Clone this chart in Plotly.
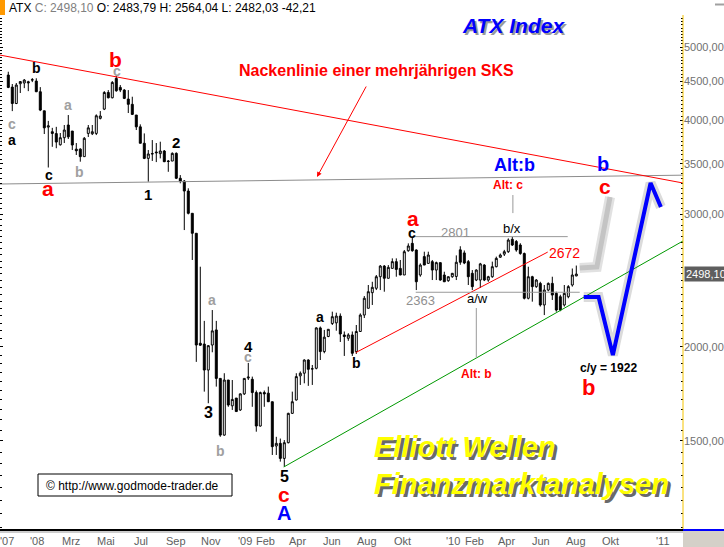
import math
import pandas as pd
import plotly.graph_objects as go

FONT = "Liberation Sans, Arial, sans-serif"

# weekly candles of the ATX, Nov 2007 - Aug 2010
opens = [4590, 4424, 4208, 4470, 4480, 4497, 4520, 4506, 4362, 4115,
         3915, 3860, 3838, 3709, 3790, 3940, 3868, 3660, 3660, 3577,
         3840, 3836, 3840, 4021, 4136, 4352, 4282, 4543, 4420, 4384,
         4265, 4197, 4062, 3918, 3726, 3558, 3606, 3628, 3610, 3639,
         3529, 3529, 3613, 3348, 3320, 3220, 3008, 2830, 2022, 2017,
         1863, 2011, 2106, 1816, 1527, 1807, 1670, 1710, 1649, 1732,
         1818, 1811, 1739, 1570, 1739, 1736, 1691, 1477, 1489, 1422,
         1492, 1632, 1700, 1830, 1845, 1921, 1869, 1873, 2119, 1971,
         2064, 2148, 2152, 2197, 2074, 2053, 2074, 1971, 2096, 2204,
         2250, 2360, 2392, 2478, 2560, 2466, 2542, 2595, 2542, 2491,
         2683, 2744, 2689, 2491, 2635, 2581, 2595, 2529, 2587, 2491,
         2448, 2478, 2480, 2690, 2665, 2595, 2504, 2453, 2453, 2568,
         2453, 2478, 2555, 2630, 2655, 2675, 2778, 2760, 2730, 2660,
         2320, 2478, 2404, 2428, 2273, 2379, 2428, 2355, 2331, 2273,
         2331, 2416, 2483.79]
highs = [4637, 4466, 4480, 4506, 4535, 4510, 4548, 4545, 4424, 4115,
         3990, 3906, 3918, 3845, 3940, 4062, 3868, 3729, 3670, 3798,
         3940, 3940, 4070, 4112, 4370, 4384, 4506, 4580, 4452, 4397,
         4384, 4296, 4062, 3948, 3840, 3650, 3763, 3729, 3744, 3650,
         3540, 3624, 3624, 3381, 3330, 3247, 3008, 2830, 2555, 2165,
         2011, 2238, 2165, 1816, 1845, 1807, 1807, 1710, 1735, 1816,
         1904, 1826, 1750, 1744, 1750, 1771, 1691, 1519, 1511, 1504,
         1635, 1744, 1845, 1855, 1925, 1925, 1892, 2123, 2128, 2106,
         2112, 2227, 2220, 2215, 2096, 2085, 2096, 2138, 2215, 2336,
         2416, 2440, 2491, 2568, 2568, 2568, 2621, 2621, 2608, 2689,
         2744, 2790, 2694, 2581, 2675, 2675, 2608, 2595, 2587, 2516,
         2480, 2506, 2645, 2720, 2685, 2608, 2529, 2535, 2585, 2575,
         2485, 2595, 2635, 2660, 2690, 2786, 2800, 2772, 2745, 2668,
         2555, 2485, 2460, 2440, 2416, 2435, 2478, 2367, 2345, 2416,
         2415, 2541, 2564.04]
lows = [4410, 4111, 4200, 4345, 4410, 4370, 4492, 4357, 4111, 3833,
        3460, 3686, 3670, 3700, 3729, 3775, 3650, 3595, 3522, 3577,
        3798, 3821, 3821, 4008, 4124, 4274, 4274, 4362, 4357, 4265,
        4087, 4062, 3880, 3726, 3550, 3313, 3530, 3518, 3558, 3518,
        3415, 3529, 3340, 3297, 2858, 2998, 2608, 1910, 2005, 1744,
        1683, 1967, 1771, 1519, 1524, 1665, 1649, 1641, 1644, 1726,
        1807, 1665, 1543, 1567, 1665, 1726, 1437, 1437, 1408, 1386,
        1489, 1629, 1697, 1780, 1789, 1775, 1780, 1867, 1921, 1961,
        2060, 2138, 2101, 2030, 1945, 2037, 1945, 1957, 2096, 2184,
        2250, 2273, 2379, 2379, 2367, 2466, 2542, 2478, 2490, 2491,
        2675, 2675, 2379, 2478, 2568, 2581, 2453, 2453, 2448, 2440,
        2440, 2470, 2453, 2570, 2575, 2416, 2379, 2445, 2394, 2445,
        2440, 2470, 2550, 2625, 2640, 2665, 2722, 2675, 2650, 2312,
        2312, 2296, 2395, 2262, 2204, 2370, 2308, 2227, 2230, 2262,
        2320, 2404, 2482.03]
closes = [4420, 4208, 4452, 4500, 4520, 4483, 4525, 4362, 4124, 3906,
          3930, 3840, 3740, 3790, 3880, 3800, 3706, 3642, 3577, 3783,
          3906, 3860, 4053, 4050, 4352, 4282, 4488, 4375, 4384, 4274,
          4197, 4070, 3918, 3726, 3558, 3606, 3610, 3620, 3639, 3522,
          3525, 3613, 3348, 3320, 3220, 3008, 2830, 2011, 2010, 1863,
          2007, 2100, 1816, 1527, 1807, 1674, 1703, 1641, 1732, 1816,
          1823, 1739, 1570, 1739, 1732, 1691, 1474, 1489, 1422, 1492,
          1632, 1691, 1826, 1845, 1921, 1867, 1870, 2119, 1971, 2060,
          2110, 2193, 2197, 2080, 2064, 2074, 1961, 2096, 2204, 2320,
          2367, 2399, 2478, 2560, 2466, 2550, 2595, 2534, 2491, 2675,
          2722, 2683, 2440, 2568, 2568, 2648, 2529, 2587, 2453, 2440,
          2478, 2504, 2590, 2590, 2584, 2478, 2404, 2529, 2577, 2453,
          2478, 2555, 2621, 2648, 2675, 2772, 2730, 2689, 2660, 2320,
          2478, 2404, 2453, 2273, 2379, 2428, 2343, 2238, 2238, 2355,
          2404, 2491, 2498.10]
dates = pd.date_range("2007-11-19", periods=len(closes), freq="7D")

# drawn lines (date, price)
x_range = ["2007-11-04 12:00", "2011-02-11 17:00"]
upper_x = x_range
upper_y = [4879, 3300]
neck_x = x_range
neck_y = [3290, 3380]
green_x = ["2009-03-15", "2011-02-11 17:00"]
green_y = [1385, 2764]
redup_x = ["2009-07-19", "2010-06-20"]
redup_y = [1965, 2672]
top_x = ["2009-10-22", "2010-07-25"]
top_y = [2801, 2801]
bot_x = ["2009-11-01", "2010-08-15"]
bot_y = [2363, 2363]
altb_x = ["2010-02-15", "2010-02-15"]
altb_y = [2252, 1933]
altc_x = ["2010-04-20", "2010-04-20"]
altc_y = [3181, 3010]
blue_x = ["2010-08-22", "2010-09-17", "2010-10-12", "2010-12-17", "2011-01-04"]
blue_y = [2329, 2329, 1950, 3300, 3066]
gray_x = ["2010-08-15", "2010-09-14", "2010-10-07"]
gray_y = [2545, 2553, 3161]

y_ticks = [1500, 2000, 3000, 3500, 4000, 4500, 5000]
y_text = ["1500,00", "2000,00", "3000,00", "3500,00", "4000,00", "4500,00", "5000,00"]
x_ticks = ["2007-11-17", "2008-01-08", "2008-03-08", "2008-05-08", "2008-07-08",
           "2008-09-08", "2008-11-08", "2009-01-06", "2009-02-11", "2009-04-08",
           "2009-06-08", "2009-08-08", "2009-10-08", "2010-01-06", "2010-02-11",
           "2010-04-08", "2010-06-08", "2010-08-08", "2010-10-08", "2011-01-08"]
x_text = ["'07", "'08", "Mrz", "Mai", "Jul", "Sep", "Nov", "'09", "Feb", "Apr",
          "Jun", "Aug", "Okt", "'10", "Feb", "Apr", "Jun", "Aug", "Okt", "'11"]

fig = go.Figure()


def line(xs, ys, color, width, dash=None):
    fig.add_trace(go.Scatter(x=xs, y=ys, mode="lines", hoverinfo="skip",
                             line=dict(color=color, width=width, dash=dash)))


line(neck_x, neck_y, "#8c8c8c", 1)
line(upper_x, upper_y, "#ff0000", 1)
line(green_x, green_y, "#009900", 1)
line(redup_x, redup_y, "#ff0000", 1)
line(top_x, top_y, "#999999", 1)
line(bot_x, bot_y, "#999999", 1)
line(altb_x, altb_y, "#999999", 1)
line(altc_x, altc_y, "#999999", 1)

fig.add_trace(go.Candlestick(
    x=dates, open=opens, high=highs, low=lows, close=closes,
    increasing=dict(line=dict(color="black", width=1), fillcolor="white"),
    decreasing=dict(line=dict(color="black", width=1), fillcolor="black"),
    whiskerwidth=0, hoverinfo="skip"))

# forecast paths with soft shadows
line(gray_x, gray_y, "rgba(120,120,120,0.22)", 10)
line(gray_x, gray_y, "#c4c4c4", 5)
line(blue_x, blue_y, "rgba(90,90,90,0.22)", 10)
line(blue_x, blue_y, "#0000ff", 4)

W, B, H = 683.0, 529.0, 514.0


def label(text, x, y, size, color, bold=True, italic=False, xanchor="center"):
    if bold:
        text = "<b>" + text + "</b>"
    if italic:
        text = "<i>" + text + "</i>"
    fig.add_annotation(x=x / W, y=(B - y) / H, xref="paper", yref="paper",
                       text=text, showarrow=False, xanchor=xanchor, yanchor="middle",
                       font=dict(family=FONT, size=size, color=color))


RED, BLK, GRY, BLU = "#ff0000", "#000000", "#a0a0a0", "#0000ff"

waves = [("b", 36, 68, 14, BLK), ("c", 12, 124, 14, GRY), ("a", 12, 140, 14, BLK),
         ("a", 68, 105, 14, GRY), ("c", 49, 175, 14, BLK), ("a", 48, 188, 21, RED),
         ("b", 79, 172, 14, GRY), ("b", 115, 59, 21, RED), ("c", 117, 71, 14, GRY),
         ("2", 176, 142, 15, BLK), ("1", 148, 194, 15, BLK), ("a", 212, 300, 14, GRY),
         ("3", 208, 412, 16, BLK), ("b", 220, 451, 14, GRY), ("4", 248, 347, 15, BLK),
         ("c", 248, 357, 14, GRY), ("5", 284, 476, 16, BLK), ("c", 284, 494, 21, RED),
         ("A", 284, 513, 20, BLU), ("a", 320, 317, 14, BLK), ("b", 356, 363, 14, BLK),
         ("a", 413, 218, 21, RED), ("c", 412, 233, 14, BLK),
         ("Alt: c", 508, 185, 12, RED), ("Alt: b", 476, 374, 12, RED),
         ("Alt:b", 514, 165, 18, BLU), ("b", 603, 164, 20, BLU), ("c", 605, 186, 21, RED),
         ("c/y = 1922", 608, 368, 12, BLK), ("b", 588, 387, 22, RED)]
for t, x, y, s, c in waves:
    label(t, x, y, s, c)

label("2801", 455, 232, 13, "#909090", bold=False)
label("2363", 420, 300, 13, "#909090", bold=False)
label("a/w", 477, 298, 13, BLK, bold=False)
label("b/x", 512, 229, 13, BLK, bold=False)
label("2672", 564, 253, 14, RED, bold=False)
label("Nackenlinie einer mehrjährigen SKS", 376, 71, 16, RED)

label("ATX Index", 515, 27, 21, "#9a9a9a", italic=True)
label("ATX Index", 513, 25, 21, BLU, italic=True)
for txt, y in [("Elliott Wellen", 447), ("Finanzmarktanalysen", 484)]:
    label(txt, 375, y + 3, 29, "#6a6a6a", italic=True, xanchor="left")
    label(txt, 372, y, 29, "#ffff00", italic=True, xanchor="left")

label("© http://www.godmode-trader.de", 44, 486, 12, BLK, bold=False, xanchor="left")

# month labels under the axis (placed as annotations so they sit inside the window)
for tv, tt in zip(x_ticks, x_text):
    fig.add_annotation(x=tv, y=(B - 541) / H, xref="x", yref="paper", text=tt,
                       showarrow=False, xanchor="center", yanchor="middle",
                       font=dict(family=FONT, size=11, color="#606060"))

# red arrow towards the neckline
fig.add_annotation(x=317 / W, y=(B - 177) / H, xref="paper", yref="paper", text="",
                   showarrow=True, ax=50, ay=-92, arrowhead=2, arrowsize=1,
                   arrowwidth=1, arrowcolor=RED)

# header line
fig.add_annotation(x=7 / W, y=(B - 8) / H, xref="paper", yref="paper", showarrow=False,
                   xanchor="left", yanchor="middle", font=dict(family=FONT, size=12, color=BLK),
                   text="ATX <span style='color:#808080'>C: 2498,10</span> O: 2483,79 "
                        "H: 2564,04 L: 2482,03 -42,21")

# last price box on the axis
fig.add_annotation(x=1, y=math.log10(closes[-1]), xref="paper", yref="y", showarrow=False,
                   xanchor="left", yanchor="middle", xshift=1, text="2498,10",
                   bgcolor="#5e5e5e", borderpad=1,
                   font=dict(family=FONT, size=11, color="white"))

shapes = [
    dict(type="rect", xref="paper", yref="paper", x0=0, x1=5 / W, y0=1, y1=1 + 15 / H,
         fillcolor="#ff9900", line=dict(width=0)),
    dict(type="rect", xref="paper", yref="paper", x0=715 / W, x1=724 / W,
         y0=(B - 5.5) / H, y1=(B - 3.5) / H, fillcolor="#a0a0a0", line=dict(width=0)),
    dict(type="line", xref="paper", yref="paper", x0=1, x1=1, y0=0, y1=1,
         line=dict(color="#f5c400", width=1)),
    dict(type="line", xref="paper", yref="paper", x0=0, x1=1, y0=-3 / H, y1=-3 / H,
         line=dict(color="#9a9a9a", width=1)),
    dict(type="rect", xref="paper", yref="paper", x0=1, x1=724 / W, y0=-18 / H, y1=0,
         fillcolor="#d4d0c8", line=dict(width=0)),
    dict(type="rect", xref="paper", yref="paper", x0=1, x1=724 / W, y0=-2 / H, y1=0,
         fillcolor="#0000ff", line=dict(width=0)),
    dict(type="rect", xref="paper", yref="paper", x0=38 / W, x1=232 / W,
         y0=(B - 496) / H, y1=(B - 474) / H, fillcolor="white",
         line=dict(color="black", width=1), layer="above"),
]

fig.update_layout(
    width=724, height=547, margin=dict(l=0, r=41, t=15, b=18, autoexpand=False),
    paper_bgcolor="white", plot_bgcolor="white", showlegend=False,
    font=dict(family=FONT), shapes=shapes,
    xaxis=dict(type="date", range=x_range, rangeslider=dict(visible=False),
               automargin=False, showgrid=False, zeroline=False,
               showticklabels=False, ticks="",
               showline=True, linecolor="black", linewidth=2),
    yaxis=dict(type="log", side="right", range=[math.log10(1146), math.log10(5515)],
               automargin=False, showgrid=False, zeroline=False,
               tickvals=y_ticks, ticktext=y_text,
               ticks="inside", ticklen=3, tickcolor="black", mirror="ticks",
               showline=False,
               minor=dict(tickvals=list(range(1150, 5500, 50)), ticks="inside",
                          ticklen=2, tickcolor="black"),
               tickfont=dict(family=FONT, size=11, color="#707070")),
)

# page body has a default 8px margin; drop it so the figure sits at the window corner
fig.write_html("out.html", config={"displayModeBar": False},
               post_script="document.body.style.margin='0px';")
